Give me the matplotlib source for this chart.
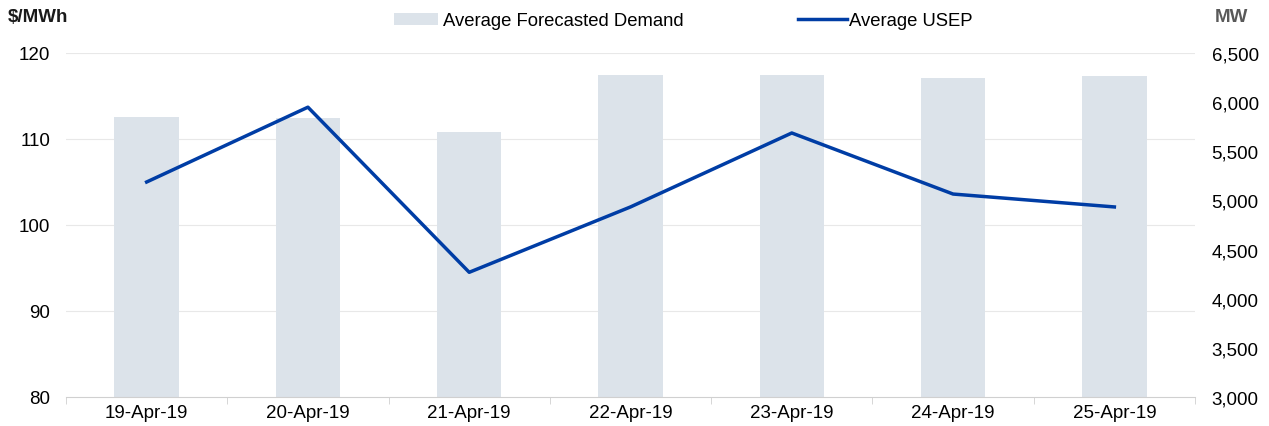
import matplotlib
matplotlib.use("Agg")
import matplotlib.pyplot as plt
from matplotlib.ticker import FuncFormatter, FixedLocator
import numpy as np

plt.rcParams['font.family'] = ['Liberation Sans', 'DejaVu Sans']

dates = ["19-Apr-19", "20-Apr-19", "21-Apr-19", "22-Apr-19", "23-Apr-19", "24-Apr-19", "25-Apr-19"]
demand_mw = [5850, 5840, 5700, 6275, 6275, 6245, 6265]
usep = [105.0, 113.7, 94.5, 102.1, 110.7, 103.6, 102.1]

bar_color = "#DCE3EA"
line_color = "#003DA5"

fig = plt.figure(figsize=(12.69, 4.27), dpi=100)
ax = fig.add_axes([66/1269, 1 - 398/427, (1195-66)/1269, (398-54)/427])
ax2 = ax.twinx()

x = np.arange(len(dates))
bars = ax2.bar(x, demand_mw, width=0.40, color=bar_color, zorder=1, label="Average Forecasted Demand")
ax2.set_ylim(3000, 6500)
ax2.yaxis.set_major_locator(FixedLocator(np.arange(3000, 6501, 500)))
ax2.yaxis.set_major_formatter(FuncFormatter(lambda v, p: f"{int(v):,}"))

ax.set_zorder(ax2.get_zorder() + 1)
ax.patch.set_visible(False)
line, = ax.plot(x, usep, color=line_color, lw=2.5, zorder=3, label="Average USEP")
ax.set_ylim(80, 120)
ax.set_yticks([80, 90, 100, 110, 120])
ax.set_xlim(-0.5, len(dates) - 0.5)

for v in [90, 100, 110, 120]:
    ax2.axhline(3000 + (v - 80) * 3500 / 40, color="#E8E8E8", lw=0.8, zorder=0)

ax.set_xticks(x)
ax.set_xticklabels(dates)
ax.set_xticks(np.arange(-0.5, len(dates)), minor=True)

for a in (ax, ax2):
    for s in ("top", "left", "right", "bottom"):
        a.spines[s].set_visible(False)
ax.spines["bottom"].set_visible(True)
ax.spines["bottom"].set_color("#D0D0D0")
ax.tick_params(axis="x", which="major", length=0, labelsize=13.5, pad=5, colors="#000000")
ax.tick_params(axis="x", which="minor", length=5, color="#D0D0D0")
ax.tick_params(axis="y", length=0, labelsize=13.5, pad=11.5)
ax2.tick_params(axis="y", length=0, labelsize=13.5, pad=12)
ax2.tick_params(axis="x", length=0)

fig.text(8/1269, 1 - 18/427, "$/MWh", fontsize=13.5, fontweight="bold", va="center", ha="left", color="#1a1a1a")
fig.text(1215/1269, 1 - 18/427, "MW", fontsize=13.5, fontweight="bold", va="center", ha="left", color="#595959")

leg1 = fig.legend([bars], ["Average Forecasted Demand"], loc="center left",
                  bbox_to_anchor=(394/1269, 1 - 22/427), frameon=False, fontsize=13.3,
                  handlelength=2.4, handleheight=0.55, handletextpad=0.27,
                  borderpad=0, borderaxespad=0)
leg2 = fig.legend([line], ["Average USEP"], loc="center left",
                  bbox_to_anchor=(798/1269, 1 - 22/427), frameon=False, fontsize=13.3,
                  handlelength=2.65, handletextpad=0.12,
                  borderpad=0, borderaxespad=0)

fig.savefig("out.png", dpi=100)
